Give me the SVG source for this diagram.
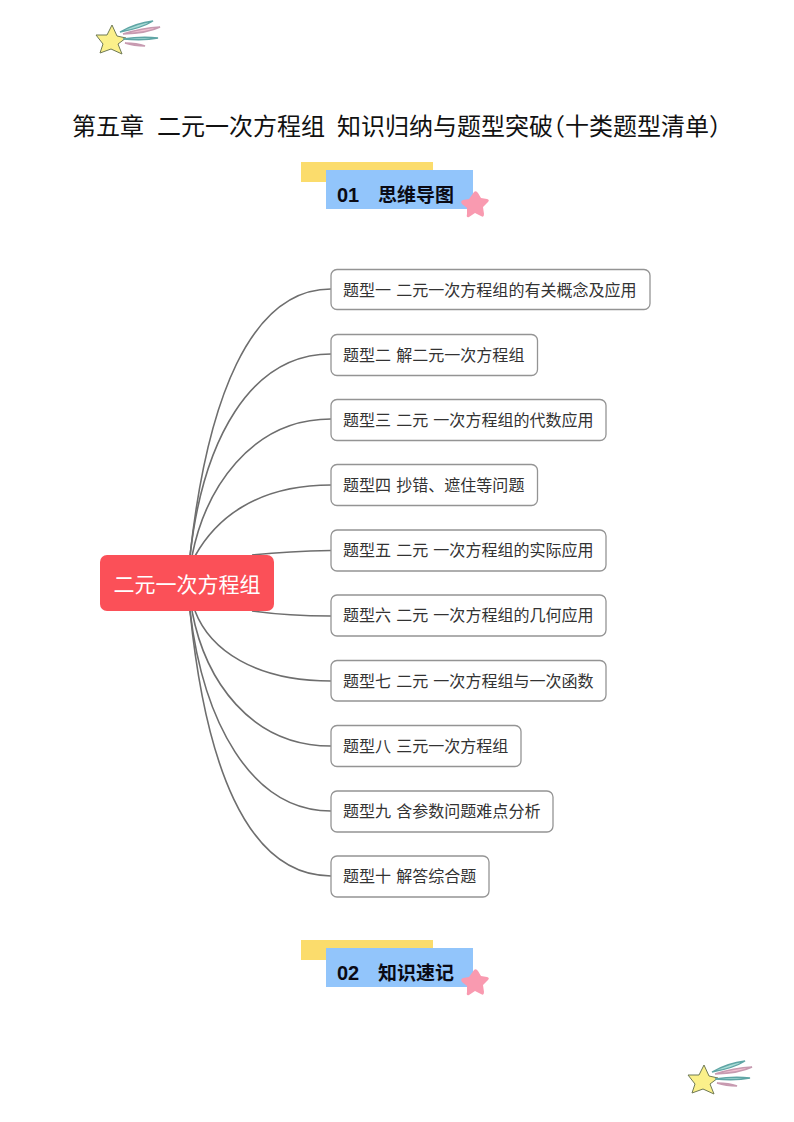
<svg xmlns="http://www.w3.org/2000/svg" width="794" height="1122" viewBox="0 0 794 1122">
<style>
text{font-family:"Noto Sans CJK SC","Liberation Sans",sans-serif}
.box{fill:#fff;stroke:#949494;stroke-width:1.3}
.t{font-size:16.05px;fill:#333;word-spacing:1.5px}
.c{fill:none;stroke:#6e6e6e;stroke-width:1.6}
.h{font-size:19px;font-weight:700;fill:#0a0a14}
.n{font-family:"Liberation Sans",sans-serif;font-size:20px}
.ti{font-size:24px;fill:#111}
.half{font-feature-settings:"halt"}
</style>
<defs>
<g id="shoot">
<path d="M112,25 L117,36 L126,38 L118,44 L122,54 L111,49 L100,53 L103,44 L96,35 L107,35Z" fill="#fbf08a" stroke="#6f7a55" stroke-width="1"/>
<path d="M120,32 Q136,23 153,21 Q142,28 120,32Z" fill="#a8dcd6" stroke="#5fa5a5" stroke-width="1.4"/>
<path d="M123,34 Q142,28 160,27 Q148,33 123,34Z" fill="#f3c2d2" stroke="#c79ab0" stroke-width="1.4"/>
<path d="M123,39 Q142,36 158,38 Q144,41 123,39Z" fill="#a8dcd6" stroke="#5fa5a5" stroke-width="1.4"/>
<path d="M125,43 Q137,43 145,46 Q134,46 125,43Z" fill="#f3c2d2" stroke="#c79ab0" stroke-width="1.4"/>
</g>
<g id="banner">
<rect x="301" y="162" width="132" height="20" fill="#fbdc6c"/>
<rect x="326" y="170" width="147" height="39" fill="#92c5fb"/>
<path d="M474,192 Q476,190 478,193 L481,198 L487,199 Q490,200 488,202 L483,207 L484,214 Q484,218 481,216 L475,213 L469,217 Q466,218 467,214 L467,208 L462,204 Q460,201 463,200 L469,199Z" fill="#f99ab0"/>
</g>
</defs>
<use href="#shoot"/>
<use href="#shoot" transform="translate(592 1040)"/>
<g id="title">
<text class="ti" x="72" y="135">第五章</text>
<text class="ti" x="157" y="135">二元一次方程组</text>
<text class="ti half" x="337" y="135">知识归纳与题型突破（十类题型清单）</text>
</g>
<g id="heading-1"><use href="#banner"/><text class="h n" x="337" y="202">01</text><text class="h" x="378" y="202">思维导图</text></g>
<g id="heading-2"><use href="#banner" y="778"/><text class="h n" x="337" y="980">02</text><text class="h" x="378" y="980">知识速记</text></g>
<g id="connectors">
<path class="c" d="M190,556 C207,400 250,289 331,289"/>
<path class="c" d="M190,556 C203,440 250,354 331,354"/>
<path class="c" d="M192,556 C205,490 250,419 331,419"/>
<path class="c" d="M195,556 C215,520 255,485 331,485"/>
<path class="c" d="M252,555 C280,552 300,551 331,550.500"/>
<path class="c" d="M252,611 C280,615 300,616 331,616"/>
<path class="c" d="M195,611 C210,650 255,681 331,681"/>
<path class="c" d="M192,611 C205,680 250,746 331,746"/>
<path class="c" d="M190,611 C203,720 250,811 331,811"/>
<path class="c" d="M190,611 C205,760 245,876 331,876"/>
</g>
<g id="root"><rect x="100" y="555" width="174" height="56" rx="7" fill="#fb5058"/><text x="113.500" y="592" font-size="21" fill="#fff">二元一次方程组</text></g>
<g id="n1"><rect class="box" x="331" y="269.500" width="319" height="40" rx="6"/><text class="t" x="343" y="295.500" xml:space="preserve">题型一 二元一次方程组的有关概念及应用</text></g>
<g id="n2"><rect class="box" x="331" y="334.500" width="206.500" height="41" rx="6"/><text class="t" x="343" y="360.500" xml:space="preserve">题型二 解二元一次方程组</text></g>
<g id="n3"><rect class="box" x="331" y="399.500" width="275" height="41" rx="6"/><text class="t" x="343" y="425.500" xml:space="preserve">题型三 二元 一次方程组的代数应用</text></g>
<g id="n4"><rect class="box" x="331" y="464.500" width="206.500" height="41" rx="6"/><text class="t" x="343" y="490.500" xml:space="preserve">题型四 抄错、遮住等问题</text></g>
<g id="n5"><rect class="box" x="331" y="530" width="275" height="41" rx="6"/><text class="t" x="343" y="556" xml:space="preserve">题型五 二元 一次方程组的实际应用</text></g>
<g id="n6"><rect class="box" x="331" y="595" width="275" height="41" rx="6"/><text class="t" x="343" y="621" xml:space="preserve">题型六 二元 一次方程组的几何应用</text></g>
<g id="n7"><rect class="box" x="331" y="660.500" width="275" height="40.500" rx="6"/><text class="t" x="343" y="686.500" xml:space="preserve">题型七 二元 一次方程组与一次函数</text></g>
<g id="n8"><rect class="box" x="331" y="725.500" width="190" height="41" rx="6"/><text class="t" x="343" y="751.500" xml:space="preserve">题型八 三元一次方程组</text></g>
<g id="n9"><rect class="box" x="331" y="791" width="222" height="41" rx="6"/><text class="t" x="343" y="817" xml:space="preserve">题型九 含参数问题难点分析</text></g>
<g id="n10"><rect class="box" x="331" y="856" width="158" height="41" rx="6"/><text class="t" x="343" y="882" xml:space="preserve">题型十 解答综合题</text></g>
</svg>
